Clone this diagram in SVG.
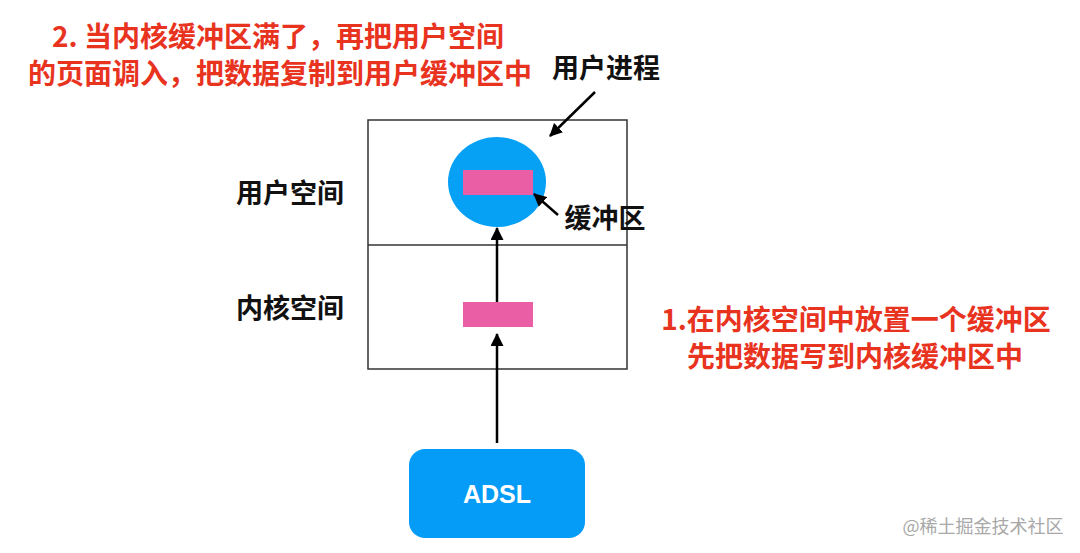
<svg xmlns="http://www.w3.org/2000/svg" width="1080" height="553" viewBox="0 0 1080 553">
  <style>
    .cjk { font-family: "Noto Sans CJK SC", "Liberation Sans", sans-serif; font-weight: bold; }
    .red { fill: #e8331f; font-size: 28px; }
    .blk { fill: #111; font-size: 27px; }
    .buf { fill: #ea5ea6; }
    .conn { stroke: #000; stroke-width: 2.5; fill: none; marker-end: url(#ah); }
  </style>
  <defs>
    <marker id="ah" markerUnits="userSpaceOnUse" markerWidth="13" markerHeight="13" refX="12" refY="6.5" orient="auto" viewBox="0 0 13 13">
      <path d="M0,0 L13,6.5 L0,13 z" fill="#000"/>
    </marker>
  </defs>
  <rect width="1080" height="553" fill="#fff"/>

  <g id="space-box">
    <rect x="368" y="120" width="259" height="249" fill="#fff" stroke="#333" stroke-width="1.5"/>
    <line x1="368" y1="245" x2="627" y2="245" stroke="#333" stroke-width="1.5"/>
  </g>

  <g id="user-process">
    <ellipse cx="497" cy="182" rx="49" ry="45" fill="#06a0f5"/>
    <rect class="buf" x="463" y="170" width="70" height="25"/>
  </g>

  <g id="kernel-buffer">
    <rect class="buf" x="463" y="302" width="70" height="25"/>
  </g>

  <g id="adsl">
    <rect x="409" y="449" width="176" height="89" rx="16" fill="#049cf6"/>
    <text x="497" y="503" text-anchor="middle" font-family="Liberation Sans, Arial, sans-serif" font-weight="bold" font-size="25" fill="#fff">ADSL</text>
  </g>

  <g id="connectors">
    <line class="conn" x1="497" y1="443" x2="497" y2="334"/>
    <line class="conn" x1="497" y1="302" x2="497" y2="228"/>
    <line class="conn" x1="595" y1="92" x2="550" y2="136"/>
    <line class="conn" x1="558" y1="215" x2="534" y2="194"/>
  </g>

  <g id="labels">
    <text class="cjk blk" x="290" y="203" text-anchor="middle">用户空间</text>
    <text class="cjk blk" x="290" y="318" text-anchor="middle">内核空间</text>
    <text class="cjk blk" x="606" y="78" text-anchor="middle">用户进程</text>
    <text class="cjk blk" x="605" y="228" text-anchor="middle">缓冲区</text>
  </g>

  <g id="notes">
    <text class="cjk red" x="278" y="47" text-anchor="middle">2. 当内核缓冲区满了，再把用户空间</text>
    <text class="cjk red" x="280" y="84" text-anchor="middle">的页面调入，把数据复制到用户缓冲区中</text>
    <text class="cjk red" x="856" y="330" text-anchor="middle">1.在内核空间中放置一个缓冲区</text>
    <text class="cjk red" x="855" y="367" text-anchor="middle">先把数据写到内核缓冲区中</text>
  </g>

  <text x="983" y="533" text-anchor="middle" font-family="Noto Sans CJK SC, Liberation Sans, sans-serif" font-size="18" fill="#a8a8a8">@稀土掘金技术社区</text>
</svg>
